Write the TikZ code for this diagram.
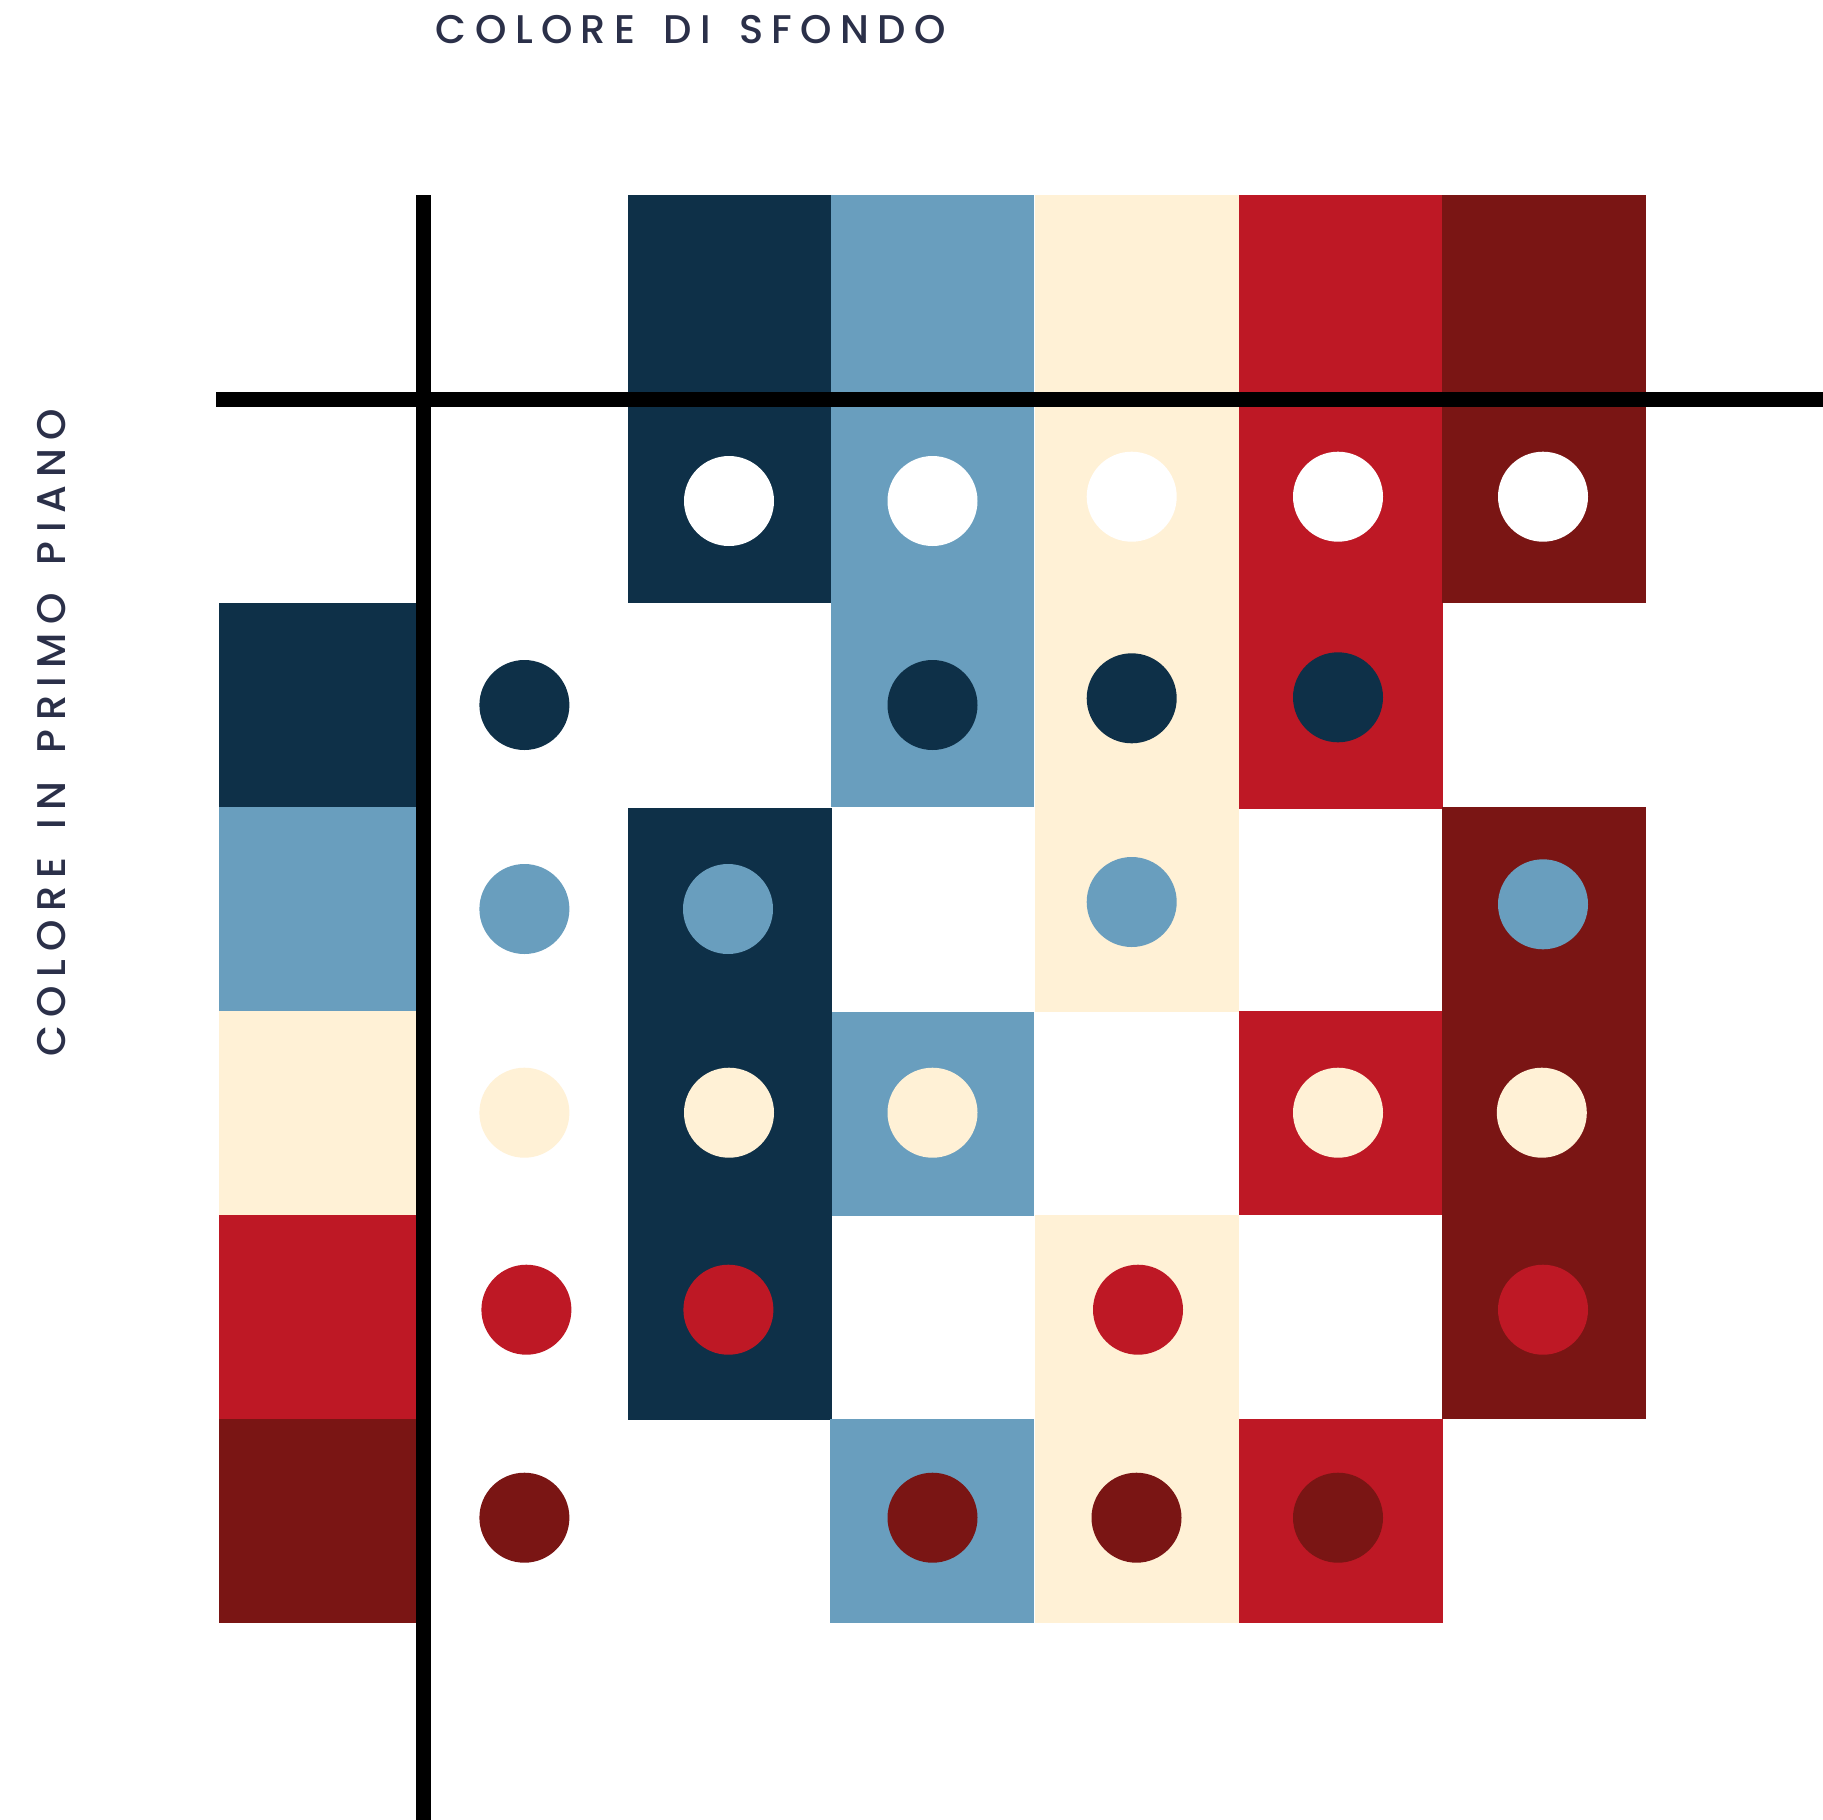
\documentclass[tikz,border=0pt]{standalone}
\usepackage{fontspec}
\newfontfamily\lblfont[LetterSpace=21, WordSpace=1.5, UprightFont={* Medium}]{Poppins}
\definecolor{cnavy}{RGB}{14,48,72}
\definecolor{cblue}{RGB}{105,158,190}
\definecolor{ccream}{RGB}{255,241,214}
\definecolor{cred}{RGB}{190,24,37}
\definecolor{cdred}{RGB}{122,21,20}
\definecolor{ctext}{RGB}{43,48,73}
\newcommand\mkblock[5]{\fill[#1] (#2,#3) rectangle (#4,#5);}
\newcommand\mkdot[3]{\fill[#1] (#2,#3) circle[radius=45];}
\begin{document}
\begin{tikzpicture}[x=1pt,y=-1pt,
  lbl/.style={inner sep=0pt, text=ctext, font=\lblfont\fontsize{40}{48}\selectfont},
  axisline/.style={line width=15pt, black}]
\path[use as bounding box, fill=white] (0,0) rectangle (1823,1820);
% column: navy
\mkblock{cnavy}{628}{195}{831}{603}
\mkblock{cnavy}{628}{808}{832}{1420}
% column: blue
\mkblock{cblue}{831}{195}{1034}{807}
\mkblock{cblue}{832}{1012}{1034}{1216}
\mkblock{cblue}{830}{1419}{1034}{1623}
% column: cream
\mkblock{ccream}{1035}{195}{1239}{1012}
\mkblock{ccream}{1035}{1215}{1239}{1623}
% column: red
\mkblock{cred}{1239}{195}{1442}{809}
\mkblock{cred}{1239}{583}{1443}{809}
\mkblock{cred}{1239}{1011}{1442}{1215}
\mkblock{cred}{1239}{1419}{1443}{1623}
% column: dark red
\mkblock{cdred}{1442}{195}{1646}{603}
\mkblock{cdred}{1442}{807}{1646}{1419}
% row labels
\mkblock{cnavy}{219}{603}{420}{807}
\mkblock{cblue}{219}{807}{420}{1011}
\mkblock{ccream}{219}{1011}{420}{1215}
\mkblock{cred}{219}{1215}{420}{1419}
\mkblock{cdred}{219}{1419}{420}{1623}
% row 1: white
\mkdot{white}{729}{501}
\mkdot{white}{932.5}{501}
\mkdot{white}{1131.7}{496.7}
\mkdot{white}{1338}{496.7}
\mkdot{white}{1543}{496.7}
% row 2: navy
\mkdot{cnavy}{524.4}{705}
\mkdot{cnavy}{932.5}{705}
\mkdot{cnavy}{1131.7}{698.3}
\mkdot{cnavy}{1338}{697.3}
% row 3: blue
\mkdot{cblue}{524.4}{909}
\mkdot{cblue}{728}{909}
\mkdot{cblue}{1131.7}{902}
\mkdot{cblue}{1543}{904.3}
% row 4: cream
\mkdot{ccream}{524.4}{1112.7}
\mkdot{ccream}{729}{1112.7}
\mkdot{ccream}{932.5}{1112.7}
\mkdot{ccream}{1338}{1112.7}
\mkdot{ccream}{1541.8}{1112.7}
% row 5: red
\mkdot{cred}{526.4}{1309.7}
\mkdot{cred}{728.4}{1309.7}
\mkdot{cred}{1138}{1309.7}
\mkdot{cred}{1543}{1309.7}
% row 6: dark red
\mkdot{cdred}{524.4}{1517.7}
\mkdot{cdred}{932.5}{1517.7}
\mkdot{cdred}{1136.5}{1517.7}
\mkdot{cdred}{1338}{1517.7}
% axes
\coordinate (hl) at (216,399.5);
\coordinate (hr) at (1823,399.5);
\coordinate (vt) at (423.5,195);
\coordinate (vb) at (423.5,1820);
\draw[axisline] (hl) -- (hr);
\draw[axisline] (vt) -- (vb);
% labels
\node[lbl] (title) at (691,29.5) {COLORE DI SFONDO};
\node[lbl, rotate=90] (ylab) at (52,733) {COLORE IN PRIMO PIANO};
\end{tikzpicture}
\end{document}
